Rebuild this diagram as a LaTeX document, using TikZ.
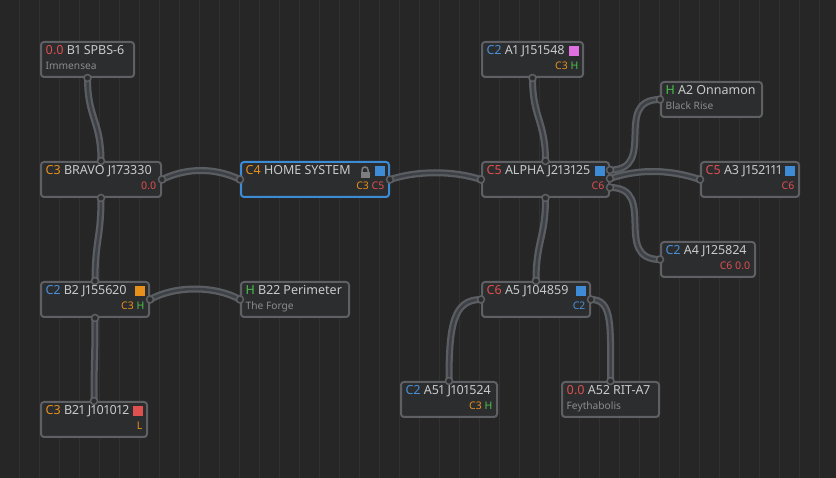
\documentclass[tikz,border=0pt]{standalone}
\usepackage{fontspec}
\setmainfont[Numbers=Proportional]{Noto Sans}
\usetikzlibrary{calc}

\definecolor{canvas}{HTML}{262626}
\definecolor{gridcol}{HTML}{313131}
\definecolor{boxfill}{HTML}{2C2D2F}
\definecolor{boxline}{HTML}{5E6063}
\definecolor{homeline}{HTML}{3D8BD4}
\definecolor{tubeout}{HTML}{5A5E62}
\definecolor{tubein}{HTML}{3D4044}
\definecolor{txtmain}{HTML}{C9CACB}
\definecolor{txtsub}{HTML}{8A8C8E}
\definecolor{lockcol}{HTML}{7C7E80}
\definecolor{cred}{HTML}{E0504F}
\definecolor{corange}{HTML}{E8901C}
\definecolor{cblue}{HTML}{4A90D8}
\definecolor{cgreen}{HTML}{4CC04C}
\definecolor{cpink}{HTML}{E070E0}
\definecolor{sqblue}{HTML}{3E8CD6}

\tikzset{
  sysbox/.style={draw=boxline, fill=boxfill, line width=2pt, rounded corners=3pt,
    anchor=north west, minimum height=35pt, inner sep=0pt},
  headtxt/.style={anchor=base west, inner sep=0pt, text=txtmain, font=\fontsize{12.5}{15}\selectfont},
  subtxt/.style={anchor=base west, inner sep=0pt, text=txtsub, font=\fontsize{10.2}{12}\selectfont},
  tagtxt/.style={anchor=base east, inner sep=0pt, font=\fontsize{10.5}{12}\selectfont},
  colsq/.style={anchor=east, inner sep=0pt, minimum size=9.5pt},
  port/.style={fill=boxfill, draw=boxline, line width=1.5pt},
  tube/.style={draw=tubeout, double=tubein, line width=2.25pt, double distance=2.5pt}
}

\begin{document}
\begin{tikzpicture}[x=1pt, y=-1pt]
        % Sfondo e griglia
        \fill[canvas] (0,0) rectangle (836,478);
        \clip (0,0) rectangle (836,478);
        \draw[gridcol, line width=1pt, step=20, shift={(-1,-1)}] (0,0) grid (840,480);

        % Riquadri dei sistemi
        \node[sysbox, minimum width=93pt] (b1) at (40,41) {};
        \node[sysbox, minimum width=120pt] (bravo) at (40,161) {};
        \node[sysbox, minimum width=148pt, draw=homeline] (home) at (240,161) {};
        \node[sysbox, minimum width=127pt] (alpha) at (481,161) {};
        \node[sysbox, minimum width=101pt] (a1) at (481,41) {};
        \node[sysbox, minimum width=101pt] (a2) at (660,81) {};
        \node[sysbox, minimum width=98pt] (a3) at (700,161) {};
        \node[sysbox, minimum width=94pt] (a4) at (660,241) {};
        \node[sysbox, minimum width=108pt] (a5) at (481,281) {};
        \node[sysbox, minimum width=96pt] (a51) at (400,381) {};
        \node[sysbox, minimum width=97pt] (a52) at (561,381) {};
        \node[sysbox, minimum width=108pt] (b2) at (40,281) {};
        \node[sysbox, minimum width=108pt] (b22) at (240,281) {};
        \node[sysbox, minimum width=106pt] (b21) at (40,401) {};

        % Porte a destra di ALPHA
        \coordinate (alpha-e1) at ([yshift=9.5pt]alpha.east);
        \coordinate (alpha-e2) at ([yshift=1pt]alpha.east);
        \coordinate (alpha-e3) at ([yshift=-8pt]alpha.east);

        % Collegamenti
        \draw[tube] (b1.south) .. controls +(0,40) and +(0,-40) .. (bravo.north);
        \draw[tube] (bravo.east) .. controls +(25,-12) and +(-25,-12) .. (home.west);
        \draw[tube] (home.east) .. controls +(28,-9) and +(-28,-9) .. (alpha.west);
        \draw[tube] (a1.south) .. controls +(0,40) and +(0,-40) .. (alpha.north);
        \draw[tube] (alpha-e1) .. controls +(48,0) and +(-48,0) .. (a2.west);
        \draw[tube] (alpha-e2) .. controls +(30,-10) and +(-30,-10) .. (a3.west);
        \draw[tube] (alpha-e3) .. controls +(48,0) and +(-48,0) .. (a4.west);
        \draw[tube] (alpha.south) .. controls +(0,40) and +(0,-40) .. (a5.north);
        \draw[tube] (a5.west) .. controls +(-28,0) and +(0,-55) .. (a51.north);
        \draw[tube] (a5.east) .. controls +(22,0) and +(0,-55) .. (a52.north);
        \draw[tube] (bravo.south) .. controls +(0,40) and +(0,-40) .. (b2.north);
        \draw[tube] (b2.south) .. controls +(0,40) and +(0,-40) .. (b21.north);
        \draw[tube] (b2.east) .. controls +(25,-14) and +(-25,-14) .. (b22.west);

        % Porte
        \foreach \p in {b1.south, bravo.north, bravo.east, bravo.south, home.west, home.east,
            alpha.west, alpha.north, alpha.south, alpha-e1, alpha-e2, alpha-e3, a1.south,
            a2.west, a3.west, a4.west, a5.north, a5.west, a5.east, a51.north, a52.north,
            b2.north, b2.south, b2.east, b22.west, b21.north}
          \draw[port] (\p) circle (3.5);

        % Testi
        \node[headtxt] (b1-h) at ($(b1.north west)+(5.5,14)$) {\textcolor{cred}{0.0} B1 SPBS-6};
        \node[subtxt] (b1-s) at ($(b1.north west)+(5.5,28.5)$) {Immensea};

        \node[headtxt] (bravo-h) at ($(bravo.north west)+(5.5,14)$) {\textcolor{corange}{C3} BRAVO J173330};
        \node[tagtxt] (bravo-t) at ($(bravo.north east)+(-5.5,28.5)$) {\textcolor{cred}{0.0}};

        \node[headtxt] (home-h) at ($(home.north west)+(5.5,14)$) {\textcolor{corange}{C4} HOME SYSTEM};
        \node[tagtxt] (home-t) at ($(home.north east)+(-5.5,28.5)$) {\textcolor{corange}{C3} \textcolor{cred}{C5}};
        \fill[lockcol] ($(home.north west)+(120.5,11)$) rectangle +(9,6.5);
        \draw[lockcol, line width=1.5pt] ($(home.north west)+(122,11.5)$) -- +(0,-2.5)
          arc[start angle=180, end angle=360, radius=3] -- +(0,2.5);
        \node[colsq, fill=sqblue] (home-q) at ($(home.north east)+(-5,10)$) {};

        \node[headtxt] (alpha-h) at ($(alpha.north west)+(5.5,14)$) {\textcolor{cred}{C5} ALPHA J213125};
        \node[tagtxt] (alpha-t) at ($(alpha.north east)+(-5.5,28.5)$) {\textcolor{cred}{C6}};
        \node[colsq, fill=sqblue] (alpha-q) at ($(alpha.north east)+(-5,10)$) {};

        \node[headtxt] (a1-h) at ($(a1.north west)+(5.5,14)$) {\textcolor{cblue}{C2} A1 J151548};
        \node[tagtxt] (a1-t) at ($(a1.north east)+(-5.5,28.5)$) {\textcolor{corange}{C3} \textcolor{cgreen}{H}};
        \node[colsq, fill=cpink] (a1-q) at ($(a1.north east)+(-5,10)$) {};

        \node[headtxt] (a2-h) at ($(a2.north west)+(5.5,14)$) {\textcolor{cgreen}{H} A2 Onnamon};
        \node[subtxt] (a2-s) at ($(a2.north west)+(5.5,28.5)$) {Black Rise};

        \node[headtxt] (a3-h) at ($(a3.north west)+(5.5,14)$) {\textcolor{cred}{C5} A3 J152111};
        \node[tagtxt] (a3-t) at ($(a3.north east)+(-5.5,28.5)$) {\textcolor{cred}{C6}};
        \node[colsq, fill=sqblue] (a3-q) at ($(a3.north east)+(-5,10)$) {};

        \node[headtxt] (a4-h) at ($(a4.north west)+(5.5,14)$) {\textcolor{cblue}{C2} A4 J125824};
        \node[tagtxt] (a4-t) at ($(a4.north east)+(-5.5,28.5)$) {\textcolor{cred}{C6} \textcolor{cred}{0.0}};

        \node[headtxt] (a5-h) at ($(a5.north west)+(5.5,14)$) {\textcolor{cred}{C6} A5 J104859};
        \node[tagtxt] (a5-t) at ($(a5.north east)+(-5.5,28.5)$) {\textcolor{cblue}{C2}};
        \node[colsq, fill=sqblue] (a5-q) at ($(a5.north east)+(-5,10)$) {};

        \node[headtxt] (a51-h) at ($(a51.north west)+(5.5,14)$) {\textcolor{cblue}{C2} A51 J101524};
        \node[tagtxt] (a51-t) at ($(a51.north east)+(-5.5,28.5)$) {\textcolor{corange}{C3} \textcolor{cgreen}{H}};

        \node[headtxt] (a52-h) at ($(a52.north west)+(5.5,14)$) {\textcolor{cred}{0.0} A52 RIT-A7};
        \node[subtxt] (a52-s) at ($(a52.north west)+(5.5,28.5)$) {Feythabolis};

        \node[headtxt] (b2-h) at ($(b2.north west)+(5.5,14)$) {\textcolor{cblue}{C2} B2 J155620};
        \node[tagtxt] (b2-t) at ($(b2.north east)+(-5.5,28.5)$) {\textcolor{corange}{C3} \textcolor{cgreen}{H}};
        \node[colsq, fill=corange] (b2-q) at ($(b2.north east)+(-5,10)$) {};

        \node[headtxt] (b22-h) at ($(b22.north west)+(5.5,14)$) {\textcolor{cgreen}{H} B22 Perimeter};
        \node[subtxt] (b22-s) at ($(b22.north west)+(5.5,28.5)$) {The Forge};

        \node[headtxt] (b21-h) at ($(b21.north west)+(5.5,14)$) {\textcolor{corange}{C3} B21 J101012};
        \node[tagtxt] (b21-t) at ($(b21.north east)+(-5.5,28.5)$) {\textcolor{corange}{L}};
        \node[colsq, fill=cred] (b21-q) at ($(b21.north east)+(-5,10)$) {};
\end{tikzpicture}
\end{document}
